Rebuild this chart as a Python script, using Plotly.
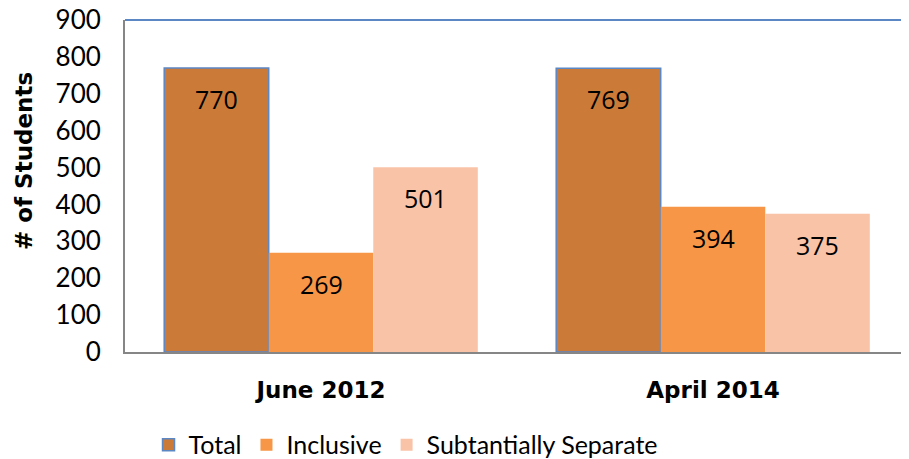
import plotly.graph_objects as go

categories = ["June 2012", "April 2014"]
series_names = ["Total", "Inclusive", "Subtantially Separate"]
total = [770, 769]
inclusive = [269, 394]
separate = [501, 375]
y_ticks = [0, 100, 200, 300, 400, 500, 600, 700, 800, 900]

colors = ["#CC7A38", "#F79646", "#F9C3A8"]
outline = ["#5B87C5", "rgba(0,0,0,0)", "rgba(0,0,0,0)"]
values = [total, inclusive, separate]

fig = go.Figure()
for name, vals, col, oc in zip(series_names, values, colors, outline):
    fig.add_trace(go.Bar(
        name=name, x=categories, y=vals,
        marker=dict(color=col, line=dict(color=oc, width=1.5 if name == "Total" else 0)),
    ))

bargap = 0.2
n = len(series_names)
bw = (1 - bargap) / n
annotations = []
for j, vals in enumerate(values):
    for i, v in enumerate(vals):
        annotations.append(dict(
            x=i + (j - (n - 1) / 2) * bw, y=v, xref="x", yref="y",
            text=str(v), showarrow=False, yshift=-31, yanchor="middle",
            font=dict(family="Open Sans", size=25, color="#000000"),
        ))

annotations.append(dict(
    x=0, xref="paper", xshift=-101, xanchor="center",
    y=0.5, yref="paper", yshift=25, yanchor="middle",
    text="<b># of Students</b>", showarrow=False, textangle=-90,
    font=dict(family="DejaVu Sans", size=23, color="#000000"),
))

fig.update_layout(
    width=901, height=451,
    margin=dict(l=117, r=0, t=12, b=107, autoexpand=False),
    paper_bgcolor="white", plot_bgcolor="white",
    barmode="group", bargap=bargap, bargroupgap=0,
    showlegend=True,
    legend=dict(orientation="h", x=0.03, xanchor="left", y=-0.28, yanchor="middle",
                font=dict(family="Lato", size=25, color="#000000"),
                traceorder="normal"),
    xaxis=dict(showline=True, linecolor="#868686", linewidth=2, ticks="",
               automargin=False, ticklabelstandoff=16,
               tickfont=dict(family="DejaVu Sans", size=23, color="#000000", weight="bold")),
    yaxis=dict(range=[0, 900], tickvals=y_ticks, showgrid=False, zeroline=False,
               showline=True, linecolor="#868686", linewidth=2, ticks="",
               automargin=False, ticklabelstandoff=17, ticklabeloverflow="allow",
               tickfont=dict(family="Lato", size=26, color="#000000")),
    shapes=[dict(type="line", xref="paper", yref="paper", x0=0, x1=1, y0=1, y1=1,
                 line=dict(color="#5B87C5", width=2))],
    annotations=annotations,
)

fig.write_html("out.html")
